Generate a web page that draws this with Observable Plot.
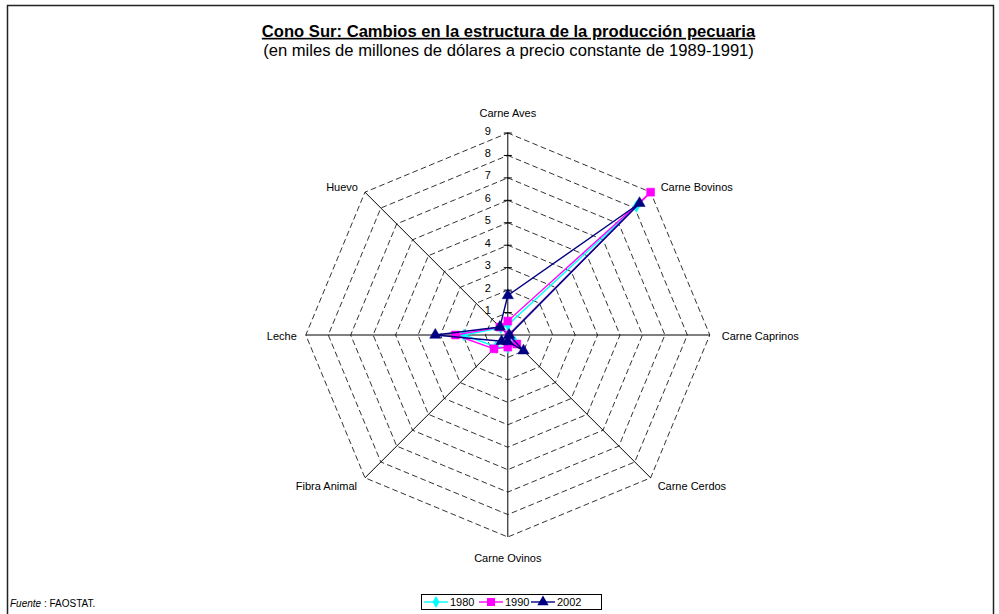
<!DOCTYPE html>
<html>
<head>
<meta charset="utf-8">
<script src="https://cdn.jsdelivr.net/npm/d3@7"></script>
<script src="https://cdn.jsdelivr.net/npm/@observablehq/plot@0.6"></script>
<style>
  html, body { margin: 0; padding: 0; background: white; }
  #wrap { position: relative; width: 999px; height: 614px; overflow: hidden; font-family: "Liberation Sans", Arial, sans-serif; }
  #legend { position: absolute; left: 421px; top: 594px; width: 179px; height: 14px; border: 1px solid #000; background: white; }
  #source { position: absolute; left: 10px; top: 598px; font-size: 10px; color: #000; }
</style>
</head>
<body>
<div id="wrap">
  <div id="chart"></div>
  <div id="legend"></div>
  <div id="source"><i>Fuente</i> : FAOSTAT.</div>
</div>
<script>
// ---- Data ----
const categories = ["Carne Aves", "Carne Bovinos", "Carne Caprinos", "Carne Cerdos", "Carne Ovinos", "Fibra Animal", "Leche", "Huevo"];
const years = ["1980", "1990", "2002"];
const values1980 = [0.45, 8.1, 0.05, 0.45, 0.55, 0.75, 1.95, 0.45];
const values1990 = [0.62, 9.0, 0.05, 0.57, 0.54, 0.87, 2.33, 0.50];
const values2002 = [1.76, 8.3, 0.06, 0.99, 0.29, 0.39, 3.23, 0.50];
const tickValues = [1, 2, 3, 4, 5, 6, 7, 8, 9];
const titleText = "Cono Sur: Cambios en la estructura de la producción pecuaria";
const subtitleText = "(en miles de millones de dólares a precio constante de 1989-1991)";

// ---- Styles ----
const colors = ["#00FFFF", "#FF00FF", "#000080"];
const symbols = ["diamond", "square", "triangle"];
const symbolR = [3.6, 4.5, 4.2];
const font = "Liberation Sans, Arial, sans-serif";
const maxV = 9;
const n = categories.length;
const ang = i => (i * 2 * Math.PI) / n;
const px = (r, i) => r * Math.sin(ang(i));
const py = (r, i) => r * Math.cos(ang(i));

const series = [values1980, values1990, values2002];
const points = [];
series.forEach((vals, s) => {
  for (let k = 0; k <= n; k++) {
    const i = k % n;
    points.push({ year: years[s], cat: categories[i], value: vals[i], x: px(vals[i], i), y: py(vals[i], i), closing: k === n });
  }
});

const rings = [];
tickValues.forEach(t => {
  for (let k = 0; k <= n; k++) rings.push({ level: t, x: px(t, k % n), y: py(t, k % n) });
});

const spokes = categories.map((c, i) => ({ cat: c, x2: px(maxV, i), y2: py(maxV, i) }));

// label placement per axis: [textAnchor, dx, dy]
const labelStyle = [
  ["middle", 0, -20],
  ["start", 10, -5],
  ["start", 12, 1],
  ["start", 7, 9],
  ["middle", 0, 21],
  ["end", -8, 9],
  ["end", -9, 1],
  ["end", -7, -5]
];

const cx = 507.3, cy = 334.5, R = 202;

const marks = [
  Plot.frame({ stroke: "#222", strokeWidth: 1.5, insetLeft: 7, insetTop: 5, insetRight: 6, insetBottom: -4 }),
  Plot.line(rings, { x: "x", y: "y", z: "level", stroke: "#000", strokeWidth: 0.8, strokeDasharray: "5,4" }),
  Plot.link(spokes, { x1: 0, y1: 0, x2: "x2", y2: "y2", stroke: "#000", strokeWidth: 1 }),
  Plot.link(tickValues, { x1: -0.18, x2: 0.18, y1: d => d, y2: d => d, stroke: "#000", strokeWidth: 1 }),
  Plot.text(tickValues, { x: 0, y: d => d, text: d => String(d), textAnchor: "end", dx: -17, dy: -2, fontSize: 11, fill: "#000" })
];

categories.forEach((c, i) => {
  const [anchor, dx, dy] = labelStyle[i];
  marks.push(Plot.text([c], { x: () => px(maxV, i), y: () => py(maxV, i), text: d => d, textAnchor: anchor, dx, dy, fontSize: 11, fill: "#000" }));
});

years.forEach((yr, s) => {
  const data = points.filter(p => p.year === yr);
  marks.push(Plot.line(data, { x: "x", y: "y", stroke: colors[s], strokeWidth: 1.4 }));
  marks.push(Plot.dot(data.filter(p => !p.closing), { x: "x", y: "y", symbol: () => symbols[s], fill: colors[s], stroke: colors[s], strokeWidth: 0.5, r: symbolR[s] }));
});

marks.push(Plot.text([titleText], { text: d => d, frameAnchor: "top", lineAnchor: "middle", dx: 8.5, dy: 31, fontWeight: "bold", fontSize: 16.6, fill: "#000" }));
marks.push(Plot.text([subtitleText], { text: d => d, frameAnchor: "top", lineAnchor: "middle", dx: 8.5, dy: 50, fontSize: 16.6, fill: "#000" }));

const chart = Plot.plot({
  width: 999,
  height: 614,
  marginLeft: 0, marginRight: 0, marginTop: 0, marginBottom: 0,
  x: { domain: [-maxV, maxV], range: [cx - R, cx + R], axis: null },
  y: { domain: [-maxV, maxV], range: [cy + R, cy - R], axis: null },
  symbol: { type: "identity" },
  style: { fontFamily: font, fontSize: "11px", background: "white", color: "#000" },
  marks
});
document.getElementById("chart").appendChild(chart);
d3.select(chart).selectAll("text")
  .filter(function () { return this.textContent === titleText; })
  .style("text-decoration", "underline");

// ---- Legend ----
const lg = d3.select("#legend").append("svg").attr("width", 179).attr("height", 14).style("display", "block");
const itemX = [2, 57, 109];
years.forEach((yr, s) => {
  const g = lg.append("g").attr("transform", `translate(${itemX[s]},7)`);
  g.append("line").attr("x1", 0).attr("x2", 24).attr("stroke", colors[s]).attr("stroke-width", 1.4);
  g.append("path").attr("transform", "translate(12,0)")
    .attr("d", d3.symbol(s === 0 ? d3.symbolDiamond : s === 1 ? d3.symbolSquare : d3.symbolTriangle, Math.PI * symbolR[s] * symbolR[s])())
    .attr("fill", colors[s]);
  g.append("text").attr("x", 26).attr("y", 4).text(yr).attr("font-size", 11).attr("font-family", font).attr("fill", "#000");
});
</script>
</body>
</html>
